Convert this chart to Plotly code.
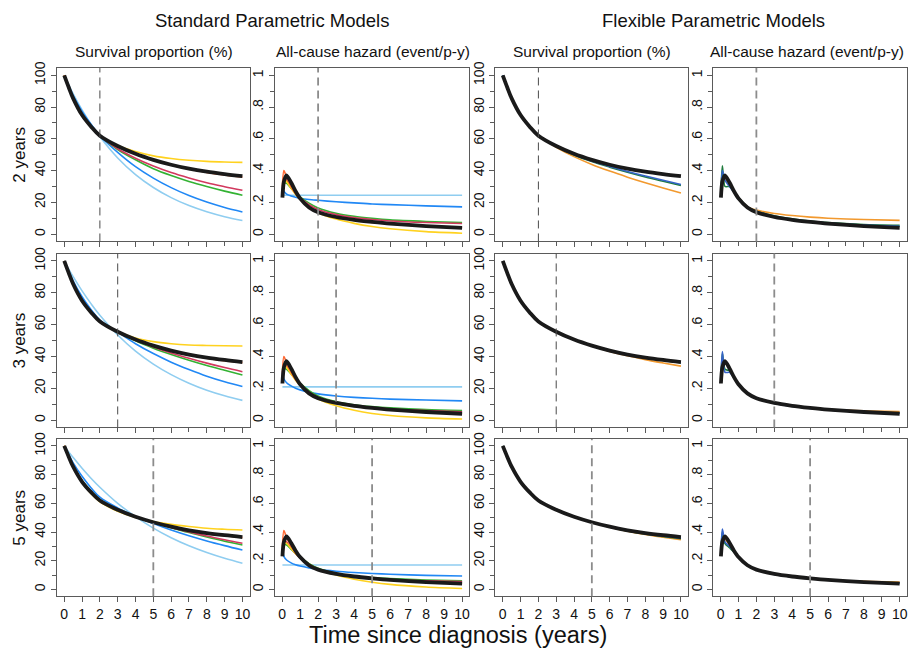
import plotly.graph_objects as go

# ---------------- data ----------------
t_surv = [0, 0.25, 0.5, 1, 1.5, 2, 3, 4, 5, 6, 7, 8, 9, 10]
t_haz = [0.02, 0.1, 0.25, 0.5, 0.75, 1, 1.5, 2, 3, 4, 5, 6, 8, 10]

cutoffs = [2, 3, 5]
row_labels = ["2 years", "3 years", "5 years"]
group_titles = ["Standard Parametric Models", "Flexible Parametric Models"]
col_titles = ["Survival proportion (%)", "All-cause hazard (event/p-y)",
              "Survival proportion (%)", "All-cause hazard (event/p-y)"]
x_title = "Time since diagnosis (years)"
x_ticks = [0, 1, 2, 3, 4, 5, 6, 7, 8, 9, 10]
surv_ticks = [0, 20, 40, 60, 80, 100]
haz_tickvals = [0, 0.2, 0.4, 0.6, 0.8, 1]
haz_ticktext = ["0", ".2", ".4", ".6", ".8", "1"]

# reference (black)
surv_ref = [100, 92.5, 85.5, 75, 67.8, 62, 55.5, 50.6, 46.8, 43.7, 41.2, 39.3, 37.8, 36.5]
haz_ref = [0.23, 0.33, 0.37, 0.325, 0.27, 0.225, 0.168, 0.138, 0.108, 0.09, 0.077, 0.066, 0.051, 0.04]

# standard models, 2-year data
s1_gomp = [100, 92.3, 85.3, 74.8, 67.6, 62, 55.8, 52.0, 49.3, 47.6, 46.5, 45.8, 45.4, 45.2]
s1_ggam = [100, 92.5, 85.5, 75, 67.8, 62, 55.4, 50.4, 46.6, 43.5, 41.0, 38.9, 37.3, 36.0]
s1_lnorm = [100, 92.8, 86, 75.5, 68, 62, 53.8, 47.8, 42.9, 38.8, 35.4, 32.4, 29.9, 27.6]
s1_llog = [100, 92.8, 86, 75.6, 68.1, 62, 53.3, 46.8, 41.2, 36.9, 33.2, 30.0, 27.1, 24.5]
s1_weib = [100, 93.3, 87.2, 77.3, 69.2, 62, 51.5, 42.5, 35.3, 29.3, 24.3, 20.2, 16.8, 14.0]
s1_exp = [100, 94.1, 88.4, 78.3, 69.3, 61.3, 48.0, 37.5, 29.4, 23.0, 18.0, 14.1, 11.0, 8.6]
h1_gomp = [0.33, 0.35, 0.33, 0.29, 0.25, 0.22, 0.17, 0.135, 0.095, 0.068, 0.048, 0.034, 0.016, 0.006]
h1_ggam = [0.30, 0.40, 0.36, 0.30, 0.255, 0.22, 0.17, 0.14, 0.108, 0.088, 0.074, 0.064, 0.05, 0.04]
h1_lnorm = [0.28, 0.35, 0.34, 0.30, 0.26, 0.23, 0.185, 0.155, 0.123, 0.104, 0.092, 0.083, 0.073, 0.067]
h1_llog = [0.27, 0.32, 0.32, 0.29, 0.26, 0.235, 0.195, 0.165, 0.132, 0.113, 0.10, 0.09, 0.08, 0.073]
h1_weib = [0.29, 0.27, 0.252, 0.24, 0.232, 0.226, 0.218, 0.213, 0.204, 0.197, 0.19, 0.186, 0.178, 0.172]
h1_exp = [0.245, 0.245, 0.245, 0.245, 0.245, 0.245, 0.245, 0.245, 0.245, 0.245, 0.245, 0.245, 0.245, 0.245]

# standard models, 3-year data
s2_gomp = [100, 92.3, 85.3, 74.8, 67.5, 61.8, 55.7, 51.6, 49.3, 48.0, 47.2, 46.9, 46.7, 46.6]
s2_ggam = [100, 92.5, 85.5, 75, 67.8, 62, 55.5, 50.5, 46.6, 43.5, 41.0, 38.9, 37.3, 36.2]
s2_lnorm = [100, 92.7, 85.8, 75.3, 67.8, 61.9, 55.5, 50.3, 45.9, 42.2, 38.9, 35.8, 33.0, 30.4]
s2_llog = [100, 92.7, 85.9, 75.5, 68, 62, 55.3, 49.8, 45.2, 41.2, 37.6, 34.3, 31.3, 28.4]
s2_weib = [100, 93.5, 87.5, 77.5, 69.5, 62.8, 55.3, 48.0, 41.8, 36.4, 31.8, 27.6, 24.1, 21.1]
s2_exp = [100, 94.9, 90.1, 81.2, 73.2, 65.9, 53.5, 43.4, 35.2, 28.6, 23.2, 18.8, 15.3, 12.4]
h2_gomp = [0.33, 0.35, 0.33, 0.29, 0.25, 0.22, 0.168, 0.132, 0.09, 0.062, 0.042, 0.029, 0.014, 0.007]
h2_ggam = [0.30, 0.40, 0.36, 0.30, 0.255, 0.22, 0.17, 0.14, 0.108, 0.088, 0.075, 0.065, 0.051, 0.042]
h2_lnorm = [0.28, 0.35, 0.34, 0.30, 0.26, 0.225, 0.175, 0.143, 0.11, 0.091, 0.079, 0.07, 0.06, 0.053]
h2_llog = [0.27, 0.32, 0.32, 0.29, 0.26, 0.232, 0.185, 0.152, 0.116, 0.097, 0.085, 0.077, 0.066, 0.06]
h2_weib = [0.30, 0.26, 0.235, 0.215, 0.20, 0.19, 0.175, 0.165, 0.152, 0.143, 0.137, 0.132, 0.126, 0.121]
h2_exp = [0.209, 0.209, 0.209, 0.209, 0.209, 0.209, 0.209, 0.209, 0.209, 0.209, 0.209, 0.209, 0.209, 0.209]

# standard models, 5-year data
s3_gomp = [100, 92.2, 85.0, 74.3, 66.8, 61.0, 54.5, 50.2, 47.3, 45.3, 43.8, 42.6, 41.9, 41.4]
s3_ggam = [100, 92.5, 85.5, 75, 67.8, 62, 55.5, 50.6, 46.8, 43.6, 41.0, 38.9, 37.4, 36.2]
s3_lnorm = [100, 92.7, 85.8, 75.5, 68.2, 62.3, 55.6, 50.6, 46.6, 43.2, 40.1, 37.2, 34.6, 32.2]
s3_llog = [100, 92.8, 86.1, 75.9, 68.6, 62.6, 55.8, 50.7, 46.6, 43.0, 39.6, 36.5, 33.6, 31.0]
s3_weib = [100, 93.8, 88.2, 78.8, 70.9, 64.3, 56.8, 50.8, 45.9, 41.4, 37.4, 33.8, 30.5, 27.4]
s3_exp = [100, 95.8, 91.9, 84.4, 77.5, 71.2, 60.0, 50.7, 42.7, 36.0, 30.4, 25.7, 21.7, 18.3]
h3_gomp = [0.30, 0.33, 0.32, 0.285, 0.25, 0.222, 0.175, 0.142, 0.10, 0.071, 0.05, 0.035, 0.017, 0.006]
h3_ggam = [0.30, 0.41, 0.36, 0.30, 0.255, 0.22, 0.168, 0.138, 0.107, 0.089, 0.075, 0.065, 0.051, 0.042]
h3_lnorm = [0.28, 0.34, 0.33, 0.29, 0.25, 0.22, 0.17, 0.138, 0.105, 0.087, 0.076, 0.069, 0.06, 0.055]
h3_llog = [0.26, 0.31, 0.31, 0.28, 0.25, 0.225, 0.18, 0.148, 0.113, 0.094, 0.082, 0.075, 0.066, 0.06]
h3_weib = [0.28, 0.23, 0.205, 0.185, 0.172, 0.163, 0.15, 0.14, 0.127, 0.118, 0.111, 0.106, 0.098, 0.093]
h3_exp = [0.17, 0.17, 0.17, 0.17, 0.17, 0.17, 0.17, 0.17, 0.17, 0.17, 0.17, 0.17, 0.17, 0.17]

# flexible parametric models
f1_s_a = [100, 92.5, 85.5, 75, 67.8, 62, 55.3, 50.1, 46.0, 42.6, 39.5, 36.6, 33.9, 31.3]
f1_s_b = [100, 92.5, 85.5, 75, 67.8, 62, 55.2, 49.9, 45.7, 42.2, 39.0, 36.0, 33.3, 30.7]
f1_s_c = [100, 92.5, 85.5, 75, 67.8, 62, 54.7, 48.8, 43.9, 39.7, 35.9, 32.4, 29.1, 25.9]
f1_h_a = [0.25, 0.40, 0.34, 0.30, 0.265, 0.228, 0.17, 0.142, 0.113, 0.094, 0.08, 0.07, 0.057, 0.05]
f1_h_b = [0.26, 0.43, 0.30, 0.30, 0.265, 0.23, 0.172, 0.145, 0.116, 0.097, 0.083, 0.073, 0.061, 0.056]
f1_h_c = [0.25, 0.38, 0.35, 0.31, 0.27, 0.23, 0.172, 0.152, 0.13, 0.117, 0.107, 0.10, 0.092, 0.087]

f2_s_a = [100, 92.5, 85.5, 75, 67.8, 62, 55.5, 50.6, 46.8, 43.7, 41.1, 39.2, 37.6, 36.3]
f2_s_b = [100, 92.5, 85.5, 75, 67.8, 62, 55.5, 50.6, 46.8, 43.7, 41.1, 39.1, 37.5, 36.1]
f2_s_c = [100, 92.5, 85.5, 75, 67.8, 62, 55.5, 50.5, 46.5, 43.2, 40.4, 38.0, 35.9, 33.9]
f2_h_a = [0.25, 0.43, 0.30, 0.30, 0.265, 0.225, 0.168, 0.137, 0.105, 0.087, 0.074, 0.064, 0.05, 0.043]
f2_h_b = [0.25, 0.42, 0.32, 0.31, 0.27, 0.228, 0.17, 0.138, 0.106, 0.088, 0.075, 0.065, 0.052, 0.045]
f2_h_c = [0.24, 0.36, 0.36, 0.32, 0.27, 0.225, 0.168, 0.137, 0.106, 0.089, 0.077, 0.068, 0.058, 0.054]

f3_s_a = [100, 92.5, 85.5, 75, 67.8, 62, 55.5, 50.6, 46.8, 43.6, 41.0, 38.9, 37.2, 35.8]
f3_s_b = [100, 92.5, 85.5, 75, 67.8, 62, 55.5, 50.6, 46.8, 43.5, 40.8, 38.6, 36.9, 35.4]
f3_s_c = [100, 92.5, 85.5, 75, 67.8, 62, 55.5, 50.6, 46.7, 43.4, 40.6, 38.3, 36.4, 34.7]
f3_h_a = [0.25, 0.42, 0.33, 0.30, 0.265, 0.225, 0.168, 0.137, 0.105, 0.087, 0.075, 0.065, 0.051, 0.043]
f3_h_b = [0.25, 0.40, 0.32, 0.29, 0.26, 0.225, 0.17, 0.139, 0.106, 0.088, 0.075, 0.065, 0.053, 0.046]
f3_h_c = [0.24, 0.36, 0.35, 0.31, 0.265, 0.223, 0.168, 0.137, 0.106, 0.089, 0.076, 0.066, 0.056, 0.052]

# ---------------- styles ----------------
C_EXP = "#8FCDF0"
C_WEIB = "#2188F5"
C_LLOG = "#33B233"
C_LNORM = "#D2395E"
C_GOMP = "#FFD21F"
C_GGAM = "#FF6A35"
C_REF = "#1A1A1A"
C_FA = "#3563C8"
C_FB = "#1E7B3C"
C_FC = "#F2992E"

W, H = 911, 652
col_px = [(57, 250), (275, 470), (496, 689), (714, 908)]
row_px = [(61.7, 237), (249.3, 425), (436.7, 595.7)]
FONT = "Liberation Sans, Arial, sans-serif"
AXC = "#5a5a5a"

std_surv = [
    [s1_exp, s1_weib, s1_llog, s1_lnorm, s1_gomp, s1_ggam],
    [s2_exp, s2_weib, s2_llog, s2_lnorm, s2_gomp, s2_ggam],
    [s3_exp, s3_weib, s3_llog, s3_lnorm, s3_gomp, s3_ggam],
]
std_haz = [
    [h1_exp, h1_weib, h1_llog, h1_lnorm, h1_gomp, h1_ggam],
    [h2_exp, h2_weib, h2_llog, h2_lnorm, h2_gomp, h2_ggam],
    [h3_exp, h3_weib, h3_llog, h3_lnorm, h3_gomp, h3_ggam],
]
std_colors = [C_EXP, C_WEIB, C_LLOG, C_LNORM, C_GOMP, C_GGAM]
flex_surv = [[f1_s_c, f1_s_b, f1_s_a], [f2_s_c, f2_s_b, f2_s_a], [f3_s_c, f3_s_b, f3_s_a]]
flex_haz = [[f1_h_c, f1_h_b, f1_h_a], [f2_h_c, f2_h_b, f2_h_a], [f3_h_c, f3_h_b, f3_h_a]]
flex_colors = [C_FC, C_FB, C_FA]

fig = go.Figure()


def suffix(k):
    return "" if k == 1 else str(k)


layout = {}
shapes = []
for r in range(3):
    for c in range(4):
        k = r * 4 + c + 1
        xa, ya = "x" + suffix(k), "y" + suffix(k)
        is_haz = c in (1, 3)
        if c == 0:
            curves, cols = std_surv[r], std_colors
        elif c == 1:
            curves, cols = std_haz[r], std_colors
        elif c == 2:
            curves, cols = flex_surv[r], flex_colors
        else:
            curves, cols = flex_haz[r], flex_colors
        tx = t_haz if is_haz else t_surv
        sm = 0.7 if is_haz else 1.0
        for yv, colr in zip(curves, cols):
            fig.add_trace(go.Scatter(x=tx, y=yv, mode="lines",
                                     line=dict(color=colr, width=1.6, shape="spline", smoothing=sm),
                                     xaxis=xa, yaxis=ya, showlegend=False, hoverinfo="skip"))
        fig.add_trace(go.Scatter(x=tx, y=haz_ref if is_haz else surv_ref, mode="lines",
                                 line=dict(color=C_REF, width=3.8, shape="spline", smoothing=sm),
                                 xaxis=xa, yaxis=ya, showlegend=False, hoverinfo="skip"))

        x0, x1 = col_px[c]
        y0, y1 = row_px[r]
        xaxis = dict(domain=[x0 / W, x1 / W], anchor=ya, range=[-0.41, 10.41],
                     showline=True, mirror=True, linecolor=AXC, linewidth=1,
                     showgrid=False, zeroline=False, ticks="outside", ticklen=5,
                     tickcolor=AXC, tickfont=dict(family=FONT, size=14, color="#111"))
        if r == 2:
            xaxis.update(tickmode="array", tickvals=x_ticks, showticklabels=True)
        else:
            xaxis.update(tickmode="array", tickvals=x_ticks[::2], showticklabels=False,
                         minor=dict(tickmode="array", tickvals=x_ticks[1::2], ticks="outside",
                                    ticklen=4, tickcolor=AXC))
        yaxis = dict(domain=[1 - y1 / H, 1 - y0 / H], anchor=xa,
                     showline=True, mirror=True, linecolor=AXC, linewidth=1,
                     showgrid=False, zeroline=False, ticks="outside", ticklen=5,
                     tickcolor=AXC, tickangle=-90,
                     tickfont=dict(family=FONT, size=14, color="#111"))
        pad = 4.8 if r == 2 else 4.6
        if is_haz:
            yaxis.update(range=[-pad / 100, 1 + pad / 100], tickmode="array",
                         tickvals=haz_tickvals, ticktext=haz_ticktext,
                         minor=dict(tickmode="array", tickvals=[0.1, 0.3, 0.5, 0.7, 0.9],
                                    ticks="outside", ticklen=4, tickcolor=AXC))
        else:
            yaxis.update(range=[-pad, 100 + pad], tickmode="array", tickvals=surv_ticks,
                         minor=dict(tickmode="array", tickvals=[10, 30, 50, 70, 90],
                                    ticks="outside", ticklen=4, tickcolor=AXC))
        layout["xaxis" + suffix(k)] = xaxis
        layout["yaxis" + suffix(k)] = yaxis
        light = is_haz or r == 2
        shapes.append(dict(type="line", xref=xa, yref=ya + " domain",
                           x0=cutoffs[r], x1=cutoffs[r], y0=0, y1=1,
                           line=dict(color="#8c8c8c" if light else "#4a4a4a",
                                     width=1.8 if light else 1.0, dash="8px,5px")))


def ann(text, px, py, size, angle=0):
    return dict(text=text, x=px / W, y=1 - py / H, xref="paper", yref="paper",
                xanchor="center", yanchor="middle", showarrow=False, textangle=angle,
                font=dict(family=FONT, size=size, color="#111"))


annotations = [ann(group_titles[0], 272, 14, 18.5), ann(group_titles[1], 714, 14, 18.5)]
col_cx = [154, 373, 592.5, 808]
for c in range(4):
    annotations.append(ann(col_titles[c], col_cx[c], 45, 15.5))
for r in range(3):
    cy = (row_px[r][0] + row_px[r][1]) / 2
    annotations.append(ann(row_labels[r], 20, cy, 17, -90))
annotations.append(ann(x_title, 459, 635, 23.5))

fig.update_layout(width=W, height=H, margin=dict(l=0, r=0, t=0, b=0),
                  paper_bgcolor="white", plot_bgcolor="white",
                  shapes=shapes, annotations=annotations, **layout)

fig.write_html("out.html")
